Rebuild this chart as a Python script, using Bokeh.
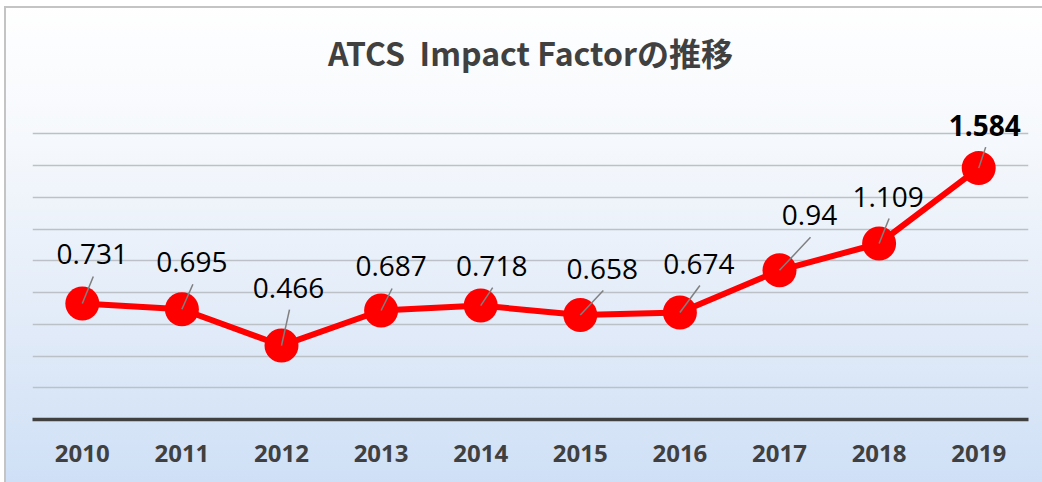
from bokeh.plotting import figure
from bokeh.models import ColumnDataSource, FixedTicker, Range1d
from bokeh.core.properties import value, field
from bokeh.embed import file_html
from bokeh.resources import INLINE

# ---- data ----
years = ["2010", "2011", "2012", "2013", "2014", "2015", "2016", "2017", "2018", "2019"]
impact = [0.731, 0.695, 0.466, 0.687, 0.718, 0.658, 0.674, 0.94, 1.109, 1.584]
grid_ticks = [0.2, 0.4, 0.6, 0.8, 1.0, 1.2, 1.4, 1.6, 1.8]

# ---- label placement (screen pixels, relative to each point) ----
lab_dx = [10, 10, 7, 10, 11, 22, 19, 30, 9, 6]
lab_dy = [-49, -47, -58, -44, -40, -46.5, -49, -55, -47, -43]

W, H = 1042, 482
BL, BR, BT, BB = 32, 14, 83, 63
frame_w = W - BL - BR
frame_h = H - BT - BB
YPX = 158.7
XPX = frame_w / len(years)
y_end = frame_h / YPX

xs = list(range(len(years)))
labels = [f"{v:g}" for v in impact]
styles_f = ["normal"] * (len(years) - 1) + ["bold"]
x1 = [x + (dx + 1) / XPX for x, dx in zip(xs, lab_dx)]
y1 = [v - (dy + 22) / YPX for v, dy in zip(impact, lab_dy)]

src = ColumnDataSource(dict(x=xs, y=impact, lab=labels, dx=lab_dx, dy=lab_dy,
                            fs=styles_f, x1=x1, y1=y1))

p = figure(width=W, height=H, output_backend="svg", toolbar_location=None,
           x_range=Range1d(-0.5, len(years) - 0.5), y_range=Range1d(0, y_end),
           min_border_left=BL, min_border_right=BR, min_border_top=BT,
           min_border_bottom=BB,
           title="ATCS \u00a0Impact Factorの推移",
           background_fill_color=None, border_fill_color=None,
           outline_line_color=None,
           styles={"background": "linear-gradient(to bottom, #ffffff 0%, #f5f8fc 30%, #e0eaf8 70%, #cfe0f6 100%)",
                   "box-shadow": "inset 4px 6px 0 #ffffff, inset 6px 8px 0 #c4c4c4"})

p.title.align = "center"
p.title.text_font = "Noto Sans CJK JP"
p.title.text_font_size = "32px"
p.title.text_font_style = "bold"
p.title.text_color = "#404040"
p.title.standoff = 17

p.yaxis.visible = False
p.xgrid.visible = False
p.ygrid.ticker = FixedTicker(ticks=grid_ticks)
p.ygrid.grid_line_color = "#bcc1c8"
p.ygrid.grid_line_width = 1.5

xa = p.xaxis[0]
xa.ticker = FixedTicker(ticks=xs)
xa.major_label_overrides = {i: y for i, y in enumerate(years)}
xa.axis_line_color = "#404040"
xa.axis_line_width = 3.5
xa.major_tick_line_color = None
xa.minor_tick_line_color = None
xa.major_label_standoff = 19
xa.major_label_text_font = "Open Sans"
xa.major_label_text_font_size = "24px"
xa.major_label_text_font_style = "bold"
xa.major_label_text_color = "#404040"

p.line("x", "y", source=src, line_color="#ff0000", line_width=6)
p.scatter("x", "y", source=src, size=34, fill_color="#ff0000", line_color=None)
p.segment(x0="x", y0="y", x1="x1", y1="y1", source=src, line_color="#7f7f7f", line_width=1.5)
p.text(x="x", y="y", text="lab", source=src, x_offset="dx", y_offset="dy",
       text_align="center", text_baseline="middle", text_font=value("Open Sans"),
       text_font_size="28px", text_font_style=field("fs"), text_color="#000000")

open("out.html", "w").write(file_html(p, INLINE))
